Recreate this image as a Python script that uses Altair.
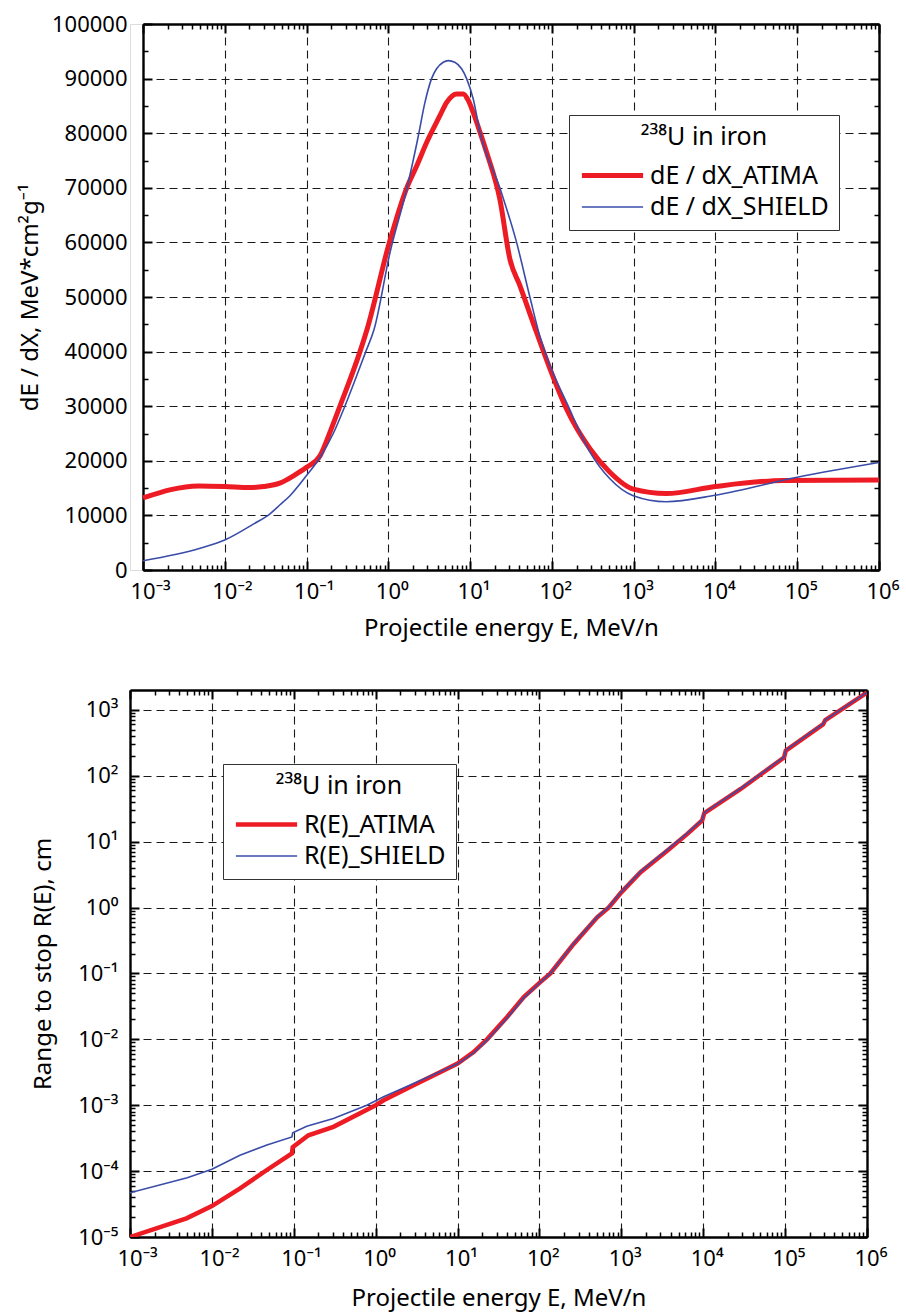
import altair as alt
import pandas as pd

# ---------------- data ----------------
# Top panel: stopping power dE/dX (MeV*cm^2/g) vs projectile energy E (MeV/n)
dedx_atima_E = [0.001, 0.0048, 0.01, 0.02, 0.03, 0.047, 0.07, 0.1, 0.146, 0.2, 0.256, 0.45, 0.55,
                1.03, 1.68, 2.22, 2.94, 4.27, 5.15, 6.84, 8.24, 9.5, 10.9, 13.2, 15.9, 23.1, 30.7, 40.6,
                65, 95, 151, 292, 512, 988, 2500, 10000, 67000, 1e6]
dedx_atima_v = [13200, 15400, 15300, 15100, 15300, 15900, 17300, 18800, 20900, 25800, 30000, 40000, 44100,
                60000, 70000, 74000, 78300, 83200, 85600, 87200, 87200, 86000, 83800, 80200, 76500, 67900, 56900, 52100,
                43500, 36800, 29500, 22200, 17900, 14800, 14000, 15300, 16400, 16500]
dedx_shield_E = [0.001, 0.005, 0.01, 0.0223, 0.0357, 0.047, 0.0627, 0.1, 0.146, 0.212, 0.294, 0.53, 0.67,
                 1.05, 1.68, 2.32, 2.8, 3.38, 3.89, 4.69, 5.4, 6.5, 7.87, 9.06, 10.9, 13.2, 23.1, 37, 53.8,
                 71, 95, 151, 292, 512, 988, 2500, 10000, 1e5, 1e6]
dedx_shield_v = [1700, 4000, 5500, 8400, 10300, 11900, 13600, 17300, 20600, 25000, 30000, 40000, 44100,
                 58200, 69800, 79400, 85600, 90000, 91800, 93000, 93300, 93000, 91800, 90000, 86300, 80200, 70000, 60000, 50000,
                 42900, 37400, 30700, 21600, 16700, 13600, 12500, 13700, 17000, 19700]

# Bottom panel: range to stop R(E) (cm) vs projectile energy E (MeV/n)
range_atima_E = [0.001, 0.0049, 0.01, 0.0221, 0.0469, 0.095, 0.097, 0.151, 0.305, 1.0, 1.25, 3.2, 6.2,
                 10, 15.7, 22.9, 40.3, 64.3, 100, 136, 262, 507, 703, 1000, 1718, 3630, 6400, 9700,
                 10300, 28700, 97000, 102000, 290000, 310000, 1e6]
range_atima_R = [1.0e-5, 1.92e-5, 2.95e-5, 5.47e-5, 1.04e-4, 1.85e-4, 2.3e-4, 3.5e-4, 4.7e-4, 1.0e-3, 1.19e-3, 2.14e-3, 3.2e-3,
                 4.3e-3, 6.4e-3, 0.01, 0.0218, 0.0438, 0.072, 0.1, 0.28, 0.71, 1.0, 1.7, 3.43, 7.3, 13.1, 21,
                 27, 63, 189, 240, 600, 700, 1830]
range_shield_E = [0.001, 0.005, 0.01, 0.022, 0.047, 0.095, 0.097, 0.144, 0.305, 0.78, 1.25, 3.2, 6.2,
                  10, 15.7, 22.9, 40.3, 64.3, 100, 136, 262, 507, 703, 1000, 1718, 3630, 6400, 9700,
                  10300, 28700, 97000, 102000, 290000, 310000, 1e6]
range_shield_R = [4.7e-5, 7.9e-5, 1.07e-4, 1.74e-4, 2.48e-4, 3.3e-4, 3.8e-4, 4.8e-4, 6.3e-4, 1.0e-3, 1.34e-3, 2.25e-3, 3.25e-3,
                  4.25e-3, 6.2e-3, 0.0097, 0.021, 0.0425, 0.071, 0.1, 0.285, 0.72, 1.02, 1.73, 3.5, 7.5, 13.5, 21.5,
                  27.5, 64, 193, 244, 612, 705, 1840]

series_top = ["dE/dX_ATIMA", "dE/dX_SHIELD"]
series_bot = ["R(E)_ATIMA", "R(E)_SHIELD"]

x_major = [10.0 ** k for k in range(-3, 7)]
x_minor = [m * 10.0 ** k for k in range(-3, 6) for m in range(2, 10)]
x_labels = ["10⁻³", "10⁻²", "10⁻¹", "10⁰", "10¹", "10²", "10³", "10⁴", "10⁵", "10⁶"]
y_top_major = list(range(0, 100001, 10000))
y_top_minor = list(range(5000, 100000, 10000))
y_bot_major = [10.0 ** k for k in range(-5, 4)]
y_bot_minor = [m * 10.0 ** k for k in range(-5, 3) for m in range(2, 10)]
y_bot_labels = ["10⁻⁵", "10⁻⁴", "10⁻³", "10⁻²", "10⁻¹", "10⁰", "10¹", "10²", "10³"]

df_top = pd.concat([
    pd.DataFrame({"E": dedx_atima_E, "v": dedx_atima_v, "series": series_top[0]}),
    pd.DataFrame({"E": dedx_shield_E, "v": dedx_shield_v, "series": series_top[1]}),
])
df_bot = pd.concat([
    pd.DataFrame({"E": range_atima_E, "v": range_atima_R, "series": series_bot[0]}),
    pd.DataFrame({"E": range_shield_E, "v": range_shield_R, "series": series_bot[1]}),
])

# ---------------- style ----------------
FONT = "Noto Sans"
RED = "#ED1C24"
BLUE = "#3A4CA8"
SHIFT = 13
W_TOP, H_TOP = 749, 546
W_BOT, H_BOT = 737, 547
GRID = dict(grid=True, gridColor="#1a1a1a", gridDash=[8, 5], gridWidth=1.1, gridOpacity=1)


def label_expr(labels, lowest):
    arr = ",".join("'" + s + "'" for s in labels)
    return "[" + arr + "][round(log(datum.value)/LN10)+" + str(-lowest) + "]"


def tick_axis(orient, offset, values, size, width, domain):
    return alt.Axis(orient=orient, offset=offset, values=values, labels=False, domain=domain,
                    domainColor="black", domainWidth=2.4, grid=False, ticks=True, tickSize=size,
                    tickWidth=width, tickColor="black", title=None)


def make_legend(x, y):
    return alt.Legend(orient="none", legendX=x, legendY=y, title="²³⁸U in iron", titleFont=FONT,
                      titleFontSize=25, titleFontWeight="normal", titleColor="black", titleAnchor="middle",
                      titlePadding=6, labelFont=FONT, labelFontSize=25, labelColor="black", labelLimit=400,
                      labelExpr="replace(datum.label, '/', ' / ')",
                      symbolType="M-1.8,0H1.8", symbolSize=1156, symbolOffset=14, labelOffset=18,
                      rowPadding=0, padding=10, strokeColor="#333333", fillColor="white")


def panel(df, series, xscale, yscale, xlab_axis, ylab_axis, y_major, y_minor, width, height, shift,
          legend, widths, interp):
    base = alt.Chart(df)
    lines = base.mark_line(clip=True, interpolate=interp).encode(
        x=alt.X("E:Q", scale=xscale, axis=xlab_axis),
        y=alt.Y("v:Q", scale=yscale, axis=ylab_axis),
        color=alt.Color("series:N", scale=alt.Scale(domain=series, range=[RED, BLUE]), legend=legend),
        strokeWidth=alt.StrokeWidth("series:N", scale=alt.Scale(domain=series, range=widths), legend=legend),
    )
    specs = [
        (tick_axis("top", -height, x_major, 9, 2, True), tick_axis("right", shift - width, y_major, 9, 2, True)),
        (tick_axis("top", -height, x_minor, 5, 1.5, False), tick_axis("right", shift - width, y_minor, 5, 1.5, False)),
        (tick_axis("bottom", -height, x_major, 9, 2, True), tick_axis("left", -width, y_major, 9, 2, True)),
        (tick_axis("bottom", -height, x_minor, 5, 1.5, False), tick_axis("left", -width, y_minor, 5, 1.5, False)),
    ]
    helpers = [
        base.mark_line(strokeOpacity=0).encode(
            x=alt.X("E:Q", scale=xscale, axis=xa),
            y=alt.Y("v:Q", scale=yscale, axis=ya),
            detail="series:N",
        )
        for xa, ya in specs
    ]
    return alt.layer(lines, *helpers).resolve_axis(x="independent", y="independent").properties(
        width=width, height=height)


def x_label_axis(title_pad):
    return alt.Axis(orient="bottom", values=x_major, labelExpr=label_expr(x_labels, -3), labelFont=FONT,
                    labelFontSize=22, labelColor="black", labelPadding=11, labelAlign="left", labelOffset=-13,
                    labelFlush=False, labelOverlap=False, ticks=False, tickSize=0, domain=False,
                    title="Projectile energy E, MeV/n", titleFont=FONT, titleFontSize=24,
                    titleFontWeight="normal", titleColor="black", titlePadding=title_pad, **GRID)


# ---------------- top panel ----------------
top = panel(
    df_top, series_top,
    alt.Scale(type="log", domain=[1e-3, 1e6], range=[SHIFT, W_TOP], nice=False),
    alt.Scale(domain=[0, 100000], nice=False, zero=False),
    x_label_axis(14),
    alt.Axis(orient="left", offset=-SHIFT, values=y_top_major, format="d", labelFont=FONT, labelFontSize=22,
             labelColor="black", labelPadding=16, ticks=False, tickSize=0, domain=False,
             title="dE / dX, MeV*cm²g⁻¹", titleFont=FONT, titleFontSize=24, titleFontWeight="normal",
             titleColor="black", titlePadding=9, **GRID),
    y_top_major, y_top_minor, W_TOP, H_TOP, SHIFT,
    make_legend(439, 91), [5, 1.6], "monotone",
)

# ---------------- bottom panel ----------------
bottom = panel(
    df_bot, series_bot,
    alt.Scale(type="log", domain=[1e-3, 1e6], nice=False),
    alt.Scale(type="log", domain=[1e-5, 2000], nice=False),
    x_label_axis(17),
    alt.Axis(orient="left", values=y_bot_major, labelExpr=label_expr(y_bot_labels, -5), labelFont=FONT,
             labelFontSize=22, labelColor="black", labelPadding=12, ticks=False, tickSize=0, domain=False,
             title="Range to stop R(E), cm", titleFont=FONT, titleFontSize=24, titleFontWeight="normal",
             titleColor="black", titlePadding=22, **GRID),
    y_bot_major, y_bot_minor, W_BOT, H_BOT, 0,
    make_legend(93, 74), [4.5, 1.6], "linear",
)

chart = alt.vconcat(top, bottom, spacing=47).resolve_scale(
    color="independent", strokeWidth="independent"
).properties(
    padding={"left": 17, "top": 12, "right": 5, "bottom": 5},
    background="white",
).configure_view(stroke="transparent").configure(font=FONT)

chart.save("out.html", embed_options={"renderer": "svg", "actions": False})
